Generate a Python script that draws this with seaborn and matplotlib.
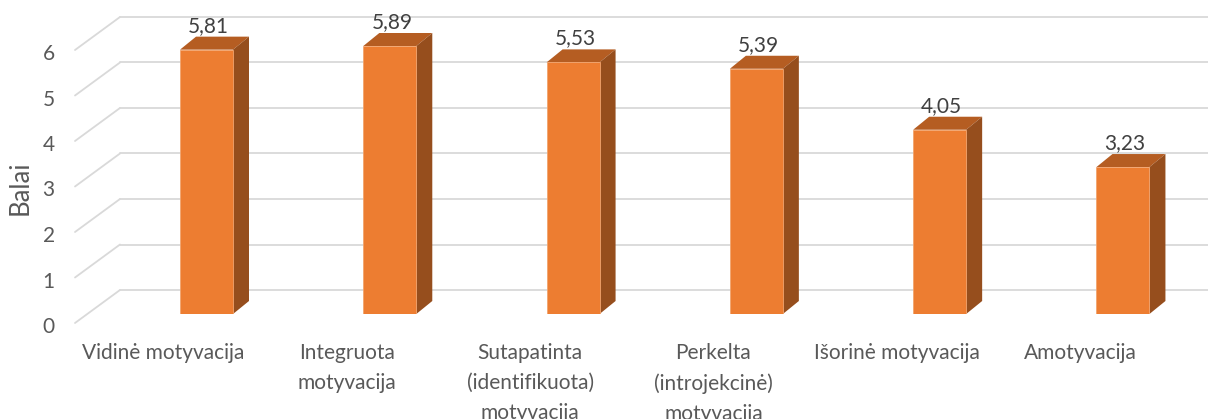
import matplotlib
matplotlib.use("Agg")
import matplotlib.pyplot as plt
import matplotlib.transforms as mtransforms
from matplotlib.patches import Polygon
import seaborn as sns

# --- data -------------------------------------------------------------------
categories = [
    "Vidinė motyvacija",
    "Integruota\nmotyvacija",
    "Sutapatinta\n(identifikuota)\nmotyvacija",
    "Perkelta\n(introjekcinė)\nmotyvacija",
    "Išorinė motyvacija",
    "Amotyvacija",
]
values = [5.81, 5.89, 5.53, 5.39, 4.05, 3.23]
value_labels = ["5,81", "5,89", "5,53", "5,39", "4,05", "3,23"]
y_ticks = [0, 1, 2, 3, 4, 5, 6]

FRONT = "#ED7D31"
TOP = "#B55D22"
SIDE = "#964E1D"
GRID = "#D9D9D9"
TEXT = "#595959"
LABEL = "#404040"
FONT = ["Lato", "DejaVu Sans"]

sns.set_theme(style="white")
plt.rcParams["font.family"] = FONT

W, H, DPI = 1208, 419, 100
fig = plt.figure(figsize=(W / DPI, H / DPI), dpi=DPI)
ax = fig.add_axes([120 / W, 105 / H, 1 - 120 / W, 1 - 105 / H])

sns.barplot(x=categories, y=values, color=FRONT, width=0.289, ax=ax,
            saturation=1, edgecolor="#F2A46E", linewidth=0.6, zorder=3)

ax.set_xlim(-0.472, 5.464)
ax.set_ylim(0, 314 / 45.5)
for s in ax.spines.values():
    s.set_visible(False)

# pixels per data unit
ppx = W * ax.get_position().width / (ax.get_xlim()[1] - ax.get_xlim()[0])
ppy = H * ax.get_position().height / (ax.get_ylim()[1] - ax.get_ylim()[0])


def shift(x, y, dx, dy):
    return x + dx / ppx, y + dy / ppy


# 3D depth of the walls and bars (in pixels)
wall_dx = 45
bar_dx, bar_dy = 16, 13

xmin, xmax = ax.get_xlim()
for k in y_ticks:
    # back wall grid line
    b0 = shift(xmin, k, 0, 24)
    ax.plot([b0[0], xmax], [b0[1], b0[1]], color=GRID, lw=1.3, zorder=0,
            clip_on=False)
    # side wall diagonal
    f0 = shift(xmin, k, -wall_dx, -9)
    ax.plot([f0[0], b0[0]], [f0[1], b0[1]], color=GRID, lw=1.3, zorder=0,
            clip_on=False)

# 3D side and top faces
for patch, lab in zip(ax.patches, value_labels):
    x0 = patch.get_x()
    x1 = x0 + patch.get_width()
    h = patch.get_height()
    top = [(x0, h), (x1, h), shift(x1, h, bar_dx, bar_dy), shift(x0, h, bar_dx, bar_dy)]
    side = [(x1, 0), (x1, h), shift(x1, h, bar_dx, bar_dy), shift(x1, 0, bar_dx, bar_dy)]
    ax.add_patch(Polygon(top, closed=True, facecolor=TOP, edgecolor="none", zorder=2))
    ax.add_patch(Polygon(side, closed=True, facecolor=SIDE, edgecolor="none", zorder=2))
    lx, ly = shift((x0 + x1) / 2, h, 2, bar_dy + 11)
    ax.text(lx, ly, lab, ha="center", va="center", fontsize=15, color=LABEL,
            zorder=4)

# y ticks
ax.set_yticks(y_ticks)
ax.set_yticklabels([str(t) for t in y_ticks])
ax.tick_params(axis="y", length=0, pad=47, labelsize=15, labelcolor=TEXT)
for t in ax.get_yticklabels():
    t.set_transform(t.get_transform() +
                    mtransforms.ScaledTranslation(0, -11 / DPI, fig.dpi_scale_trans))
ax.set_ylabel("")
fig.text(20 / W, 1 - 188 / H, "Balai", rotation=90, ha="center", va="center",
         fontsize=18.5, color=TEXT)

# x ticks
ax.tick_params(axis="x", length=0, pad=21, labelsize=15, labelcolor=TEXT)
for t in ax.get_xticklabels():
    t.set_linespacing(1.62)
    t.set_transform(t.get_transform() +
                    mtransforms.ScaledTranslation(-43 / DPI, 0, fig.dpi_scale_trans))
ax.set_xlabel("")

fig.savefig("out.png", dpi=DPI)
